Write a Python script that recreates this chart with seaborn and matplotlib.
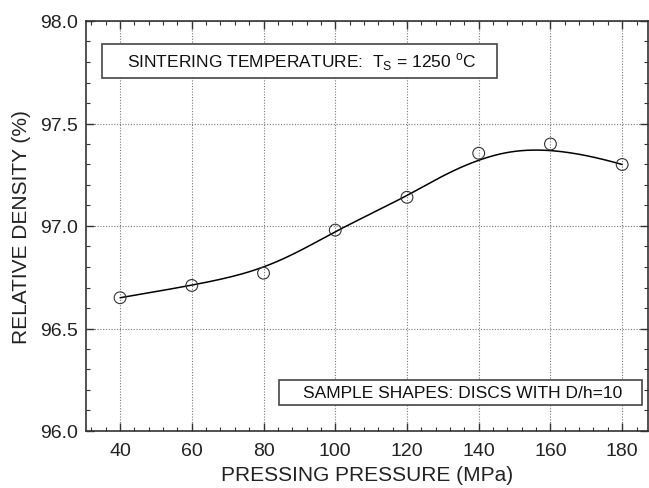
import numpy as np
import matplotlib
matplotlib.use('Agg')
import matplotlib.pyplot as plt
from matplotlib.patches import Rectangle
from matplotlib.ticker import MultipleLocator
import seaborn as sns

pressure = [40, 60, 80, 100, 120, 140, 160, 180]
density = [96.65, 96.71, 96.77, 96.98, 97.14, 97.355, 97.40, 97.30]

x_ticks = [40, 60, 80, 100, 120, 140, 160, 180]
y_ticks = [96.0, 96.5, 97.0, 97.5, 98.0]


def bspline(px, py, n_out=300):
    """Clamped cubic B-spline using the data points as control points"""
    k = 3
    n = len(px)
    knots = np.concatenate([np.zeros(k), np.arange(n - k + 1), np.full(k, n - k)])
    t = np.linspace(0, n - k, n_out)
    t[-1] -= 1e-9

    def basis(i, d):
        if d == 0:
            return ((knots[i] <= t) & (t < knots[i + 1])).astype(float)
        out = np.zeros_like(t)
        den1 = knots[i + d] - knots[i]
        if den1 > 0:
            out += (t - knots[i]) / den1 * basis(i, d - 1)
        den2 = knots[i + d + 1] - knots[i + 1]
        if den2 > 0:
            out += (knots[i + d + 1] - t) / den2 * basis(i + 1, d - 1)
        return out

    B = np.array([basis(i, k) for i in range(n)])
    return B.T @ np.asarray(px, float), B.T @ np.asarray(py, float)


sns.set_theme(style='ticks')
plt.rcParams['font.family'] = ['Liberation Sans', 'DejaVu Sans']
plt.rcParams['mathtext.fontset'] = 'custom'
plt.rcParams['mathtext.rm'] = 'Liberation Sans'

fig = plt.figure(figsize=(6.49, 4.89), dpi=100)
ax = fig.add_axes([86 / 649, (489 - 432) / 489, 562 / 649, 410 / 489])

# smooth curve + open circle markers
cx, cy = bspline(pressure, density)
sns.lineplot(x=cx, y=cy, sort=False, color='black', linewidth=1.1, ax=ax, zorder=3)
sns.scatterplot(x=pressure, y=density, marker='o', s=72, facecolors='none',
                edgecolor='#333333', linewidth=0.8, ax=ax, zorder=4)

ax.set_xlim(30.5, 187.2)
ax.set_ylim(96.0, 98.0)
ax.set_xticks(x_ticks)
ax.set_yticks(y_ticks)
ax.set_yticklabels([f'{v:.1f}' for v in y_ticks])
ax.xaxis.set_minor_locator(MultipleLocator(4))
ax.yaxis.set_minor_locator(MultipleLocator(0.1))
ax.tick_params(which='both', direction='in', top=True, right=True,
               color='#333333', labelcolor='#222222', labelsize=14)
ax.tick_params(which='major', length=6, width=1.0)
ax.tick_params(which='minor', length=3, width=0.8)
ax.tick_params(axis='x', pad=8)
ax.tick_params(axis='y', pad=6)

ax.grid(True, which='major', color='#777777', linestyle=(0, (1, 1.5)), linewidth=0.8)
for sp in ax.spines.values():
    sp.set_color('#333333')
    sp.set_linewidth(1.2)

ax.set_xlabel('PRESSING PRESSURE (MPa)', fontsize=15, color='#222222', labelpad=4)
ax.set_ylabel('RELATIVE DENSITY (%)', fontsize=15, color='#222222', labelpad=6)

# annotation boxes
ax.add_patch(Rectangle((0.0285, 0.861), 0.7025, 0.083, transform=ax.transAxes,
                       facecolor='white', edgecolor='#444444', linewidth=1.2, zorder=5))
ax.text(0.3835, 0.902, r'SINTERING TEMPERATURE:  T$_\mathregular{S}$ = 1250 $^\mathregular{o}$C',
        transform=ax.transAxes, ha='center', va='center', fontsize=12.5,
        color='#111111', zorder=6)

ax.add_patch(Rectangle((0.343, 0.063), 0.646, 0.061, transform=ax.transAxes,
                       facecolor='white', edgecolor='#444444', linewidth=1.2, zorder=5))
ax.text(0.67, 0.094, 'SAMPLE SHAPES: DISCS WITH D/h=10',
        transform=ax.transAxes, ha='center', va='center', fontsize=12.5,
        color='#111111', zorder=6)

fig.savefig('out.png', dpi=100)
